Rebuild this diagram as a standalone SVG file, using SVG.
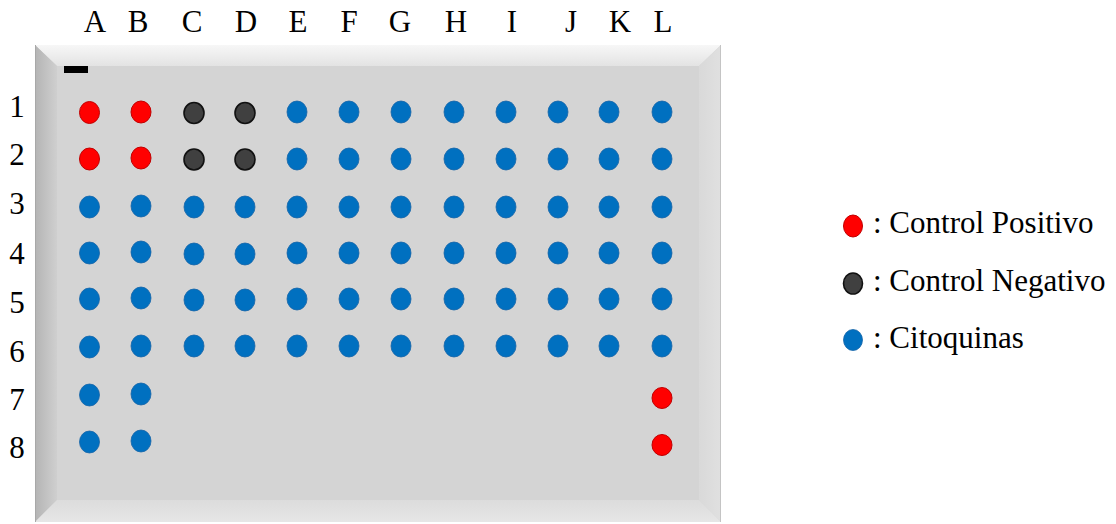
<svg xmlns="http://www.w3.org/2000/svg" width="1116" height="524" viewBox="0 0 1116 524">
<defs>
<linearGradient id="gTop" x1="0" y1="0" x2="0" y2="1"><stop offset="0" stop-color="#f7f7f7"/><stop offset="1" stop-color="#e3e3e3"/></linearGradient>
<linearGradient id="gLeft" x1="0" y1="0" x2="1" y2="0"><stop offset="0" stop-color="#b4b4b4"/><stop offset="1" stop-color="#cfcfcf"/></linearGradient>
<linearGradient id="gRight" x1="0" y1="0" x2="1" y2="0"><stop offset="0" stop-color="#d9d9d9"/><stop offset="1" stop-color="#e0e0e0"/></linearGradient>
<linearGradient id="gBot" x1="0" y1="0" x2="0" y2="1"><stop offset="0" stop-color="#dcdcdc"/><stop offset="1" stop-color="#e6e6e6"/></linearGradient>
</defs>
<style>
text{font-family:"Liberation Serif","Times New Roman",serif;font-size:31px;fill:#000}
.lbl{text-anchor:middle}
.pos{fill:#ff0000;stroke:#c00000;stroke-width:1}
.neg{fill:#404040;stroke:#111;stroke-width:1.6}
.cit{fill:#0070c0;stroke:#1565a8;stroke-width:0.8}
</style>
<rect width="1116" height="524" fill="#ffffff"/>
<g id="plate">
<rect x="35" y="45" width="686" height="477" fill="#d4d4d4"/>
<polygon points="35,45 721,45 699,66 57,66" fill="url(#gTop)"/>
<polygon points="35,45 57,66 57,500 35,522" fill="url(#gLeft)"/>
<polygon points="721,45 721,522 699,500 699,66" fill="url(#gRight)"/>
<polygon points="35,522 57,500 699,500 721,522" fill="url(#gBot)"/>
<line x1="35.5" y1="45" x2="35.5" y2="522" stroke="#a8a8a8" stroke-width="1"/>
<line x1="720.5" y1="45" x2="720.5" y2="522" stroke="#c4c4c4" stroke-width="1"/>
<rect x="64" y="66" width="24" height="7" fill="#000"/>
</g>
<g id="col-labels" font-family="Liberation Serif, serif">
<text class="lbl" x="95" y="32">A</text>
<text class="lbl" x="138" y="32">B</text>
<text class="lbl" x="192" y="32">C</text>
<text class="lbl" x="246" y="32">D</text>
<text class="lbl" x="298" y="32">E</text>
<text class="lbl" x="349" y="32">F</text>
<text class="lbl" x="400" y="32">G</text>
<text class="lbl" x="456" y="32">H</text>
<text class="lbl" x="512" y="32">I</text>
<text class="lbl" x="571" y="32">J</text>
<text class="lbl" x="620" y="32">K</text>
<text class="lbl" x="663" y="32">L</text>
</g>
<g id="row-labels">
<text class="lbl" x="17" y="117">1</text>
<text class="lbl" x="17" y="165">2</text>
<text class="lbl" x="17" y="214">3</text>
<text class="lbl" x="17" y="264">4</text>
<text class="lbl" x="17" y="313">5</text>
<text class="lbl" x="17" y="362">6</text>
<text class="lbl" x="17" y="410">7</text>
<text class="lbl" x="17" y="458">8</text>
</g>
<g id="wells">
<ellipse class="pos" cx="89.5" cy="112.5" rx="10" ry="11"/>
<ellipse class="pos" cx="141" cy="112" rx="10" ry="11"/>
<ellipse class="neg" cx="194" cy="113" rx="10" ry="10.5"/>
<ellipse class="neg" cx="245" cy="113" rx="10" ry="10.5"/>
<ellipse class="cit" cx="297" cy="112" rx="10" ry="11"/>
<ellipse class="cit" cx="349" cy="112" rx="10" ry="11"/>
<ellipse class="cit" cx="401" cy="112" rx="10" ry="11"/>
<ellipse class="cit" cx="454" cy="112" rx="10" ry="11"/>
<ellipse class="cit" cx="506" cy="112" rx="10" ry="11"/>
<ellipse class="cit" cx="558" cy="112" rx="10" ry="11"/>
<ellipse class="cit" cx="609" cy="112" rx="10" ry="11"/>
<ellipse class="cit" cx="662" cy="112" rx="10" ry="11"/>
<ellipse class="pos" cx="89.5" cy="159" rx="10" ry="11"/>
<ellipse class="pos" cx="141" cy="158" rx="10" ry="11"/>
<ellipse class="neg" cx="194" cy="159.5" rx="10" ry="10.5"/>
<ellipse class="neg" cx="245" cy="159.5" rx="10" ry="10.5"/>
<ellipse class="cit" cx="297" cy="159" rx="10" ry="11"/>
<ellipse class="cit" cx="349" cy="159" rx="10" ry="11"/>
<ellipse class="cit" cx="401" cy="159" rx="10" ry="11"/>
<ellipse class="cit" cx="454" cy="159" rx="10" ry="11"/>
<ellipse class="cit" cx="506" cy="159" rx="10" ry="11"/>
<ellipse class="cit" cx="558" cy="159" rx="10" ry="11"/>
<ellipse class="cit" cx="609" cy="159" rx="10" ry="11"/>
<ellipse class="cit" cx="662" cy="159" rx="10" ry="11"/>
<ellipse class="cit" cx="89.5" cy="207" rx="10" ry="11"/>
<ellipse class="cit" cx="141" cy="206" rx="10" ry="11"/>
<ellipse class="cit" cx="194" cy="207" rx="10" ry="11"/>
<ellipse class="cit" cx="245" cy="207" rx="10" ry="11"/>
<ellipse class="cit" cx="297" cy="207" rx="10" ry="11"/>
<ellipse class="cit" cx="349" cy="207" rx="10" ry="11"/>
<ellipse class="cit" cx="401" cy="207" rx="10" ry="11"/>
<ellipse class="cit" cx="454" cy="207" rx="10" ry="11"/>
<ellipse class="cit" cx="506" cy="207" rx="10" ry="11"/>
<ellipse class="cit" cx="558" cy="207" rx="10" ry="11"/>
<ellipse class="cit" cx="609" cy="207" rx="10" ry="11"/>
<ellipse class="cit" cx="662" cy="207" rx="10" ry="11"/>
<ellipse class="cit" cx="89.5" cy="253" rx="10" ry="11"/>
<ellipse class="cit" cx="141" cy="252" rx="10" ry="11"/>
<ellipse class="cit" cx="194" cy="254" rx="10" ry="11"/>
<ellipse class="cit" cx="245" cy="254" rx="10" ry="11"/>
<ellipse class="cit" cx="297" cy="253" rx="10" ry="11"/>
<ellipse class="cit" cx="349" cy="253" rx="10" ry="11"/>
<ellipse class="cit" cx="401" cy="253" rx="10" ry="11"/>
<ellipse class="cit" cx="454" cy="253" rx="10" ry="11"/>
<ellipse class="cit" cx="506" cy="253" rx="10" ry="11"/>
<ellipse class="cit" cx="558" cy="253" rx="10" ry="11"/>
<ellipse class="cit" cx="609" cy="253" rx="10" ry="11"/>
<ellipse class="cit" cx="662" cy="253" rx="10" ry="11"/>
<ellipse class="cit" cx="89.5" cy="299" rx="10" ry="11"/>
<ellipse class="cit" cx="141" cy="298" rx="10" ry="11"/>
<ellipse class="cit" cx="194" cy="300" rx="10" ry="11"/>
<ellipse class="cit" cx="245" cy="300" rx="10" ry="11"/>
<ellipse class="cit" cx="297" cy="299" rx="10" ry="11"/>
<ellipse class="cit" cx="349" cy="299" rx="10" ry="11"/>
<ellipse class="cit" cx="401" cy="299" rx="10" ry="11"/>
<ellipse class="cit" cx="454" cy="299" rx="10" ry="11"/>
<ellipse class="cit" cx="506" cy="299" rx="10" ry="11"/>
<ellipse class="cit" cx="558" cy="299" rx="10" ry="11"/>
<ellipse class="cit" cx="609" cy="299" rx="10" ry="11"/>
<ellipse class="cit" cx="662" cy="299" rx="10" ry="11"/>
<ellipse class="cit" cx="89.5" cy="347" rx="10" ry="11"/>
<ellipse class="cit" cx="141" cy="346" rx="10" ry="11"/>
<ellipse class="cit" cx="194" cy="346" rx="10" ry="11"/>
<ellipse class="cit" cx="245" cy="346" rx="10" ry="11"/>
<ellipse class="cit" cx="297" cy="346" rx="10" ry="11"/>
<ellipse class="cit" cx="349" cy="346" rx="10" ry="11"/>
<ellipse class="cit" cx="401" cy="346" rx="10" ry="11"/>
<ellipse class="cit" cx="454" cy="346" rx="10" ry="11"/>
<ellipse class="cit" cx="506" cy="346" rx="10" ry="11"/>
<ellipse class="cit" cx="558" cy="346" rx="10" ry="11"/>
<ellipse class="cit" cx="609" cy="346" rx="10" ry="11"/>
<ellipse class="cit" cx="662" cy="346" rx="10" ry="11"/>
<ellipse class="cit" cx="89.5" cy="395" rx="10" ry="11"/>
<ellipse class="cit" cx="141" cy="394" rx="10" ry="11"/>
<ellipse class="pos" cx="662" cy="398" rx="10" ry="10.5"/>
<ellipse class="cit" cx="89.5" cy="442" rx="10" ry="11"/>
<ellipse class="cit" cx="141" cy="441" rx="10" ry="11"/>
<ellipse class="pos" cx="662" cy="445" rx="10" ry="10.5"/>
</g>
<g id="legend">
<g id="legend-pos"><ellipse class="pos" cx="853" cy="226" rx="9.5" ry="11"/><text x="873" y="233" font-family="Liberation Serif, serif">: Control Positivo</text></g>
<g id="legend-neg"><ellipse class="neg" cx="853" cy="283.5" rx="9.5" ry="10.5"/><text x="873" y="291" font-family="Liberation Serif, serif">: Control Negativo</text></g>
<g id="legend-cit"><ellipse class="cit" cx="853" cy="340" rx="9.5" ry="10.5"/><text x="873" y="348" font-family="Liberation Serif, serif">: Citoquinas</text></g>
</g>
</svg>
